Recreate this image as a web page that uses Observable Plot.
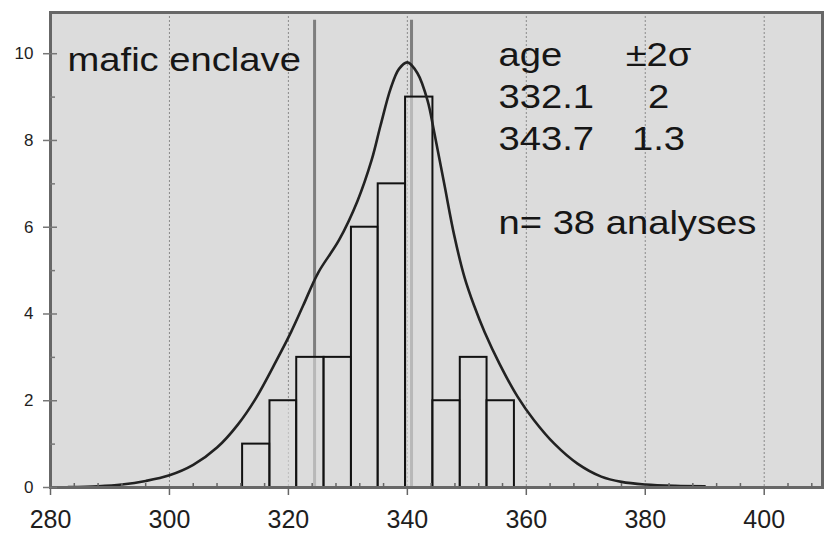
<!DOCTYPE html>
<html>
<head>
<meta charset="utf-8">
<script src="https://cdn.jsdelivr.net/npm/d3@7"></script>
<script src="https://cdn.jsdelivr.net/npm/@observablehq/plot@0.6"></script>
<style>
  body { margin: 0; background: #fff; }
</style>
</head>
<body>
<div id="chart"></div>
<script>
// Histogram of zircon ages (Ma): bin edges and number of analyses per bin
const binEdges = [312.3, 316.9, 321.4, 326.0, 330.6, 335.1, 339.7, 344.3, 348.9, 353.4, 358.0];
const binCounts = [1, 2, 3, 3, 6, 7, 9, 2, 3, 2];

// Relative probability curve
const curveAge = [283, 288, 292, 296, 300, 304, 308, 311.5, 314.5, 318, 320.5, 322.5, 325, 328.5,
  331.6, 334, 335.5, 337.2, 338.6, 340, 341.7, 343.4, 344.5, 346.2, 347.9, 349.6, 351.2, 353,
  355.5, 358.5, 361.3, 364.7, 368.6, 372.6, 376, 380, 385, 390];
const curveDensity = [0.01, 0.03, 0.07, 0.15, 0.28, 0.52, 0.92, 1.45, 2.05, 2.93, 3.6, 4.2, 4.95, 5.7,
  6.6, 7.55, 8.35, 9.2, 9.65, 9.8, 9.55, 8.92, 8.2, 7.0, 5.8, 4.85, 4.2, 3.58,
  2.85, 2.1, 1.55, 1.01, 0.55, 0.25, 0.13, 0.07, 0.04, 0.03];

// Vertical age markers
const ageLines = [324.4, 340.7];
const ageLineTop = 10.77;

// Axis ticks
const xTicks = [280, 300, 320, 340, 360, 380, 400];
const xGrid = [300, 320, 340, 360, 380, 400];
const xMinorTicks = [284, 288, 292, 296, 304, 308, 312, 316, 324, 328, 332, 336, 344, 348, 352, 356,
  364, 368, 372, 376, 384, 388, 392, 396, 404, 408];
const yTicks = [0, 2, 4, 6, 8, 10];
const yMinorTicks = [1, 3, 5, 7, 9];

// Annotations
const sampleName = "mafic enclave";
const ageColumn = ["age", "332.1", "343.7", "", "n= 38 analyses"];
const errorColumn = ["±2σ", "2", "1.3"];

const bins = binCounts.map((c, i) => ({x1: binEdges[i], x2: binEdges[i + 1], count: c}));
const curve = curveAge.map((a, i) => ({age: a, density: curveDensity[i]}));

const textStyle = {frameAnchor: "top-left", fill: "#161616", fontSize: 33.5, className: "stretch"};
const noLabel = () => "";

const chart = Plot.plot({
  width: 824,
  height: 533,
  marginLeft: 50,
  marginTop: 12,
  marginRight: 2,
  marginBottom: 46,
  style: {fontFamily: "'Liberation Sans', Arial, sans-serif", background: "#fff", color: "#1e1e1e"},
  x: {domain: [280, 409.8]},
  y: {domain: [0, 10.95]},
  marks: [
    Plot.frame({fill: "#dcdcdc"}),
    Plot.ruleX(xGrid, {stroke: "#8a8a8a", strokeWidth: 1, strokeDasharray: "2,2"}),
    Plot.ruleX(ageLines, {y1: 0, y2: ageLineTop, stroke: "#7e7e7e", strokeWidth: 3}),
    Plot.rectY(bins, {x1: "x1", x2: "x2", y: "count", fill: "#dcdcdc", fillOpacity: 0.62,
      stroke: "#111", strokeWidth: 2}),
    Plot.line(curve, {x: "age", y: "density", curve: "catmull-rom", stroke: "#222", strokeWidth: 2.6}),
    Plot.frame({stroke: "#676767", strokeWidth: 3}),
    Plot.axisX({ticks: xTicks, tickSize: 8, tickPadding: 15, fontSize: 25, stroke: "#666",
      strokeWidth: 1.5, label: null}),
    Plot.axisX({ticks: xMinorTicks, tickSize: 4, dy: -4, stroke: "#666", strokeWidth: 1.5,
      tickFormat: noLabel, label: null}),
    Plot.axisY({ticks: yTicks, tickSize: 14, dx: 7, tickPadding: 10, fontSize: 17, stroke: "#777",
      strokeWidth: 1.5, label: null}),
    Plot.axisY({ticks: yMinorTicks, tickSize: 5, dx: 5, stroke: "#777", strokeWidth: 1.5,
      tickFormat: noLabel, label: null}),
    Plot.text([sampleName], {...textStyle, text: d => d, textAnchor: "start", lineAnchor: "top",
      dx: 17, dy: 35}),
    Plot.text([ageColumn.join("\n")], {...textStyle, text: d => d, textAnchor: "start", lineAnchor: "top",
      lineHeight: 1.254, dx: 448, dy: 23.2}),
    Plot.text([errorColumn.join("\n")], {...textStyle, text: d => d, textAnchor: "middle", lineAnchor: "top",
      lineHeight: 1.254, dx: 608, dy: 23.2})
  ]
});

document.getElementById("chart").appendChild(chart);

// Widen the annotation lettering horizontally about each text anchor
d3.select(chart).selectAll("g.stretch").each(function () {
  const t = this.getAttribute("transform") || "";
  this.setAttribute("transform", `${t} translate(50,0) scale(1.14,1) translate(-50,0)`);
});
</script>
</body>
</html>
